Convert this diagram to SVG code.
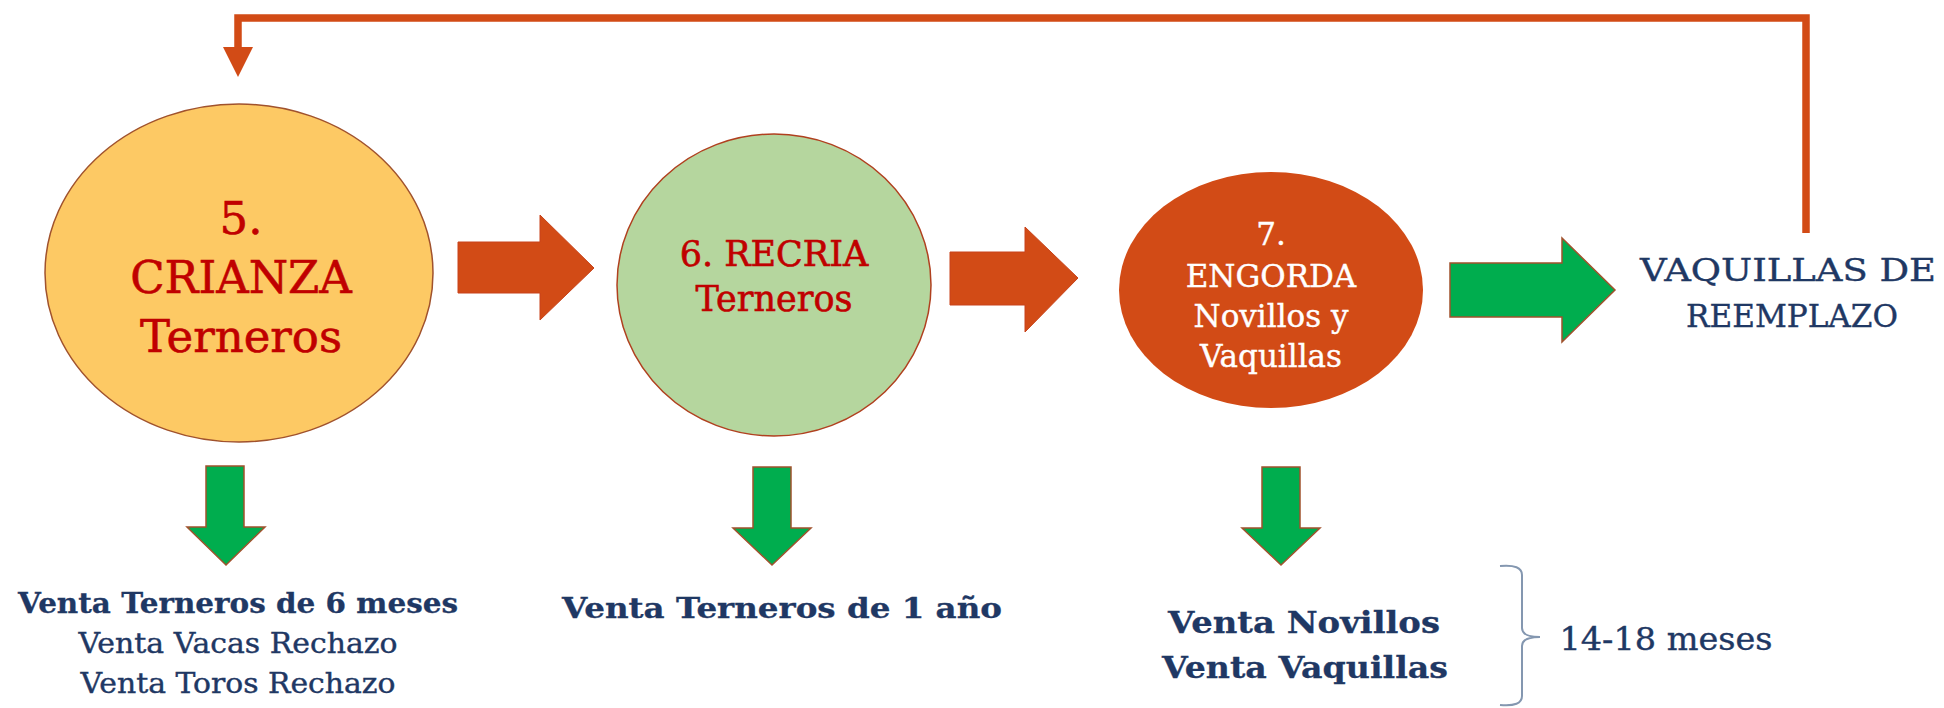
<svg xmlns="http://www.w3.org/2000/svg" width="1944" height="708" viewBox="0 0 1944 708">
<style>
  text { font-family: "DejaVu Serif", "Liberation Serif", serif; text-anchor: middle; }
  .red { fill: #C00000; stroke: #C00000; stroke-width: 0.6; }
  .white { fill: #FFFFFF; stroke: #FFFFFF; stroke-width: 0.4; }
  .navy { fill: #1F3864; stroke: #1F3864; stroke-width: 0.4; }
  .bold { font-weight: bold; stroke-width: 0.3; }
  .orange { fill: #D24B16; stroke: #C8431A; stroke-width: 1; }
  .green { fill: #00AD4E; stroke: #A0522D; stroke-width: 1.5; }
</style>
<rect width="1944" height="708" fill="#FFFFFF"/>

<g id="connectors">
  <polyline points="1806,233 1806,18 238,18 238,50" fill="none" stroke="#D24B16" stroke-width="7.5"/>
  <polygon points="223,47 253,47 238,77" fill="#D24B16"/>
  <polygon class="orange" points="458,242 540,242 540,215 594,268 540,320 540,293 458,293"/>
  <polygon class="orange" points="950,252 1025,252 1025,227 1078,278 1025,332 1025,305 950,305"/>
  <polygon class="green" points="1450,263 1562,263 1562,238 1615,290 1562,342 1562,317 1450,317"/>
  <polygon class="green" points="206,466 244,466 244,527 265,527 226,565 187,527 206,527"/>
  <polygon class="green" points="753,467 791,467 791,528 811,528 772,565 733,528 753,528"/>
  <polygon class="green" points="1262,467 1300,467 1300,528 1320,528 1281,565 1242,528 1262,528"/>
</g>

<g id="crianza">
  <ellipse cx="239" cy="273" rx="194" ry="169" fill="#FDC964" stroke="#A0522D" stroke-width="1.5"/>
  <text class="red" x="241" y="234" font-size="45">5.</text>
  <text class="red" x="241" y="293" font-size="45">CRIANZA</text>
  <text class="red" x="241" y="352" font-size="45">Terneros</text>
</g>

<g id="recria">
  <ellipse cx="774" cy="285" rx="157" ry="151" fill="#B5D69E" stroke="#B0401F" stroke-width="1.5"/>
  <text class="red" x="774" y="266" font-size="35">6. RECRIA</text>
  <text class="red" x="774" y="311" font-size="35">Terneros</text>
</g>

<g id="engorda">
  <ellipse cx="1271" cy="290" rx="152" ry="118" fill="#D24B16"/>
  <text class="white" x="1271" y="245" font-size="31">7.</text>
  <text class="white" x="1271" y="287" font-size="31">ENGORDA</text>
  <text class="white" x="1271" y="327" font-size="31">Novillos y</text>
  <text class="white" x="1271" y="367" font-size="31">Vaquillas</text>
</g>

<g id="reemplazo">
  <text class="navy" x="1788" y="281" font-size="32" stroke-width="0.9" textLength="296" lengthAdjust="spacingAndGlyphs">VAQUILLAS DE</text>
  <text class="navy" x="1792" y="327" font-size="32" stroke-width="0.9" textLength="212" lengthAdjust="spacingAndGlyphs">REEMPLAZO</text>
</g>

<g id="venta-crianza">
  <text class="navy bold" x="238" y="613" font-size="28" textLength="440" lengthAdjust="spacingAndGlyphs">Venta Terneros de 6 meses</text>
  <text class="navy" x="238" y="653" font-size="28" textLength="319" lengthAdjust="spacingAndGlyphs">Venta Vacas Rechazo</text>
  <text class="navy" x="238" y="693" font-size="28" textLength="315" lengthAdjust="spacingAndGlyphs">Venta Toros Rechazo</text>
</g>

<g id="venta-recria">
  <text class="navy bold" x="782" y="618" font-size="28" textLength="440" lengthAdjust="spacingAndGlyphs">Venta Terneros de 1 año</text>
</g>

<g id="venta-engorda">
  <text class="navy bold" x="1304" y="633" font-size="30" textLength="272" lengthAdjust="spacingAndGlyphs">Venta Novillos</text>
  <text class="navy bold" x="1305" y="678" font-size="30" textLength="286" lengthAdjust="spacingAndGlyphs">Venta Vaquillas</text>
</g>

<g id="plazo">
  <path d="M1500,566 Q1522,564 1522,575 L1522,628 Q1522,637 1540,637 Q1522,637 1522,646 L1522,696 Q1522,707 1500,705" fill="none" stroke="#8497B0" stroke-width="2"/>
  <text class="navy" x="1666" y="650" font-size="32" textLength="213" lengthAdjust="spacingAndGlyphs">14-18 meses</text>
</g>
</svg>
